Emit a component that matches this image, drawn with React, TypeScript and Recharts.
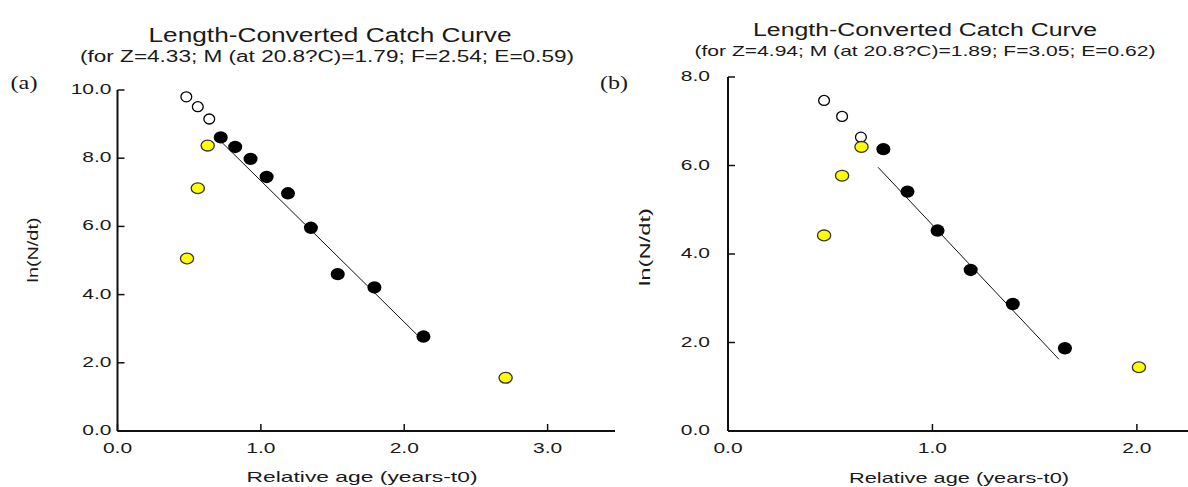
import React from 'react';
import { ScatterChart, Scatter, XAxis, YAxis } from 'recharts';

// panel (a)
const A_OPEN_AGE = [0.48, 0.56, 0.64];
const A_OPEN_LN = [9.8, 9.51, 9.15];
const A_YELLOW_AGE = [0.485, 0.56, 0.629, 2.707];
const A_YELLOW_LN = [5.06, 7.12, 8.37, 1.56];
const A_BLACK_AGE = [0.72, 0.821, 0.928, 1.04, 1.189, 1.349, 1.536, 1.792, 2.134];
const A_BLACK_LN = [8.61, 8.33, 7.98, 7.45, 6.97, 5.96, 4.6, 4.21, 2.77];
const A_FIT_AGE = [0.7, 2.09];
const A_FIT_LN = [8.58, 2.82];
const A_X_TICKS = [0, 1, 2, 3];
const A_Y_TICKS = [0, 2, 4, 6, 8, 10];

// panel (b)
const B_OPEN_AGE = [0.47, 0.558, 0.65];
const B_OPEN_LN = [7.47, 7.11, 6.64];
const B_YELLOW_AGE = [0.47, 0.558, 0.653, 2.01];
const B_YELLOW_LN = [4.42, 5.77, 6.42, 1.44];
const B_BLACK_AGE = [0.76, 0.878, 1.025, 1.187, 1.393, 1.648];
const B_BLACK_LN = [6.37, 5.41, 4.53, 3.64, 2.87, 1.87];
const B_FIT_AGE = [0.734, 1.619];
const B_FIT_LN = [5.96, 1.62];
const B_X_TICKS = [0, 1, 2];
const B_Y_TICKS = [0, 2, 4, 6, 8];

const TITLE = 'Length-Converted Catch Curve';
const A_SUB = '(for Z=4.33; M (at 20.8?C)=1.79; F=2.54; E=0.59)';
const B_SUB = '(for Z=4.94; M (at 20.8?C)=1.89; F=3.05; E=0.62)';
const X_LABEL = 'Relative age (years-t0)';
const Y_LABEL = 'ln(N/dt)';

const FONT = '"Liberation Sans", Arial, sans-serif';
const SERIF = '"Liberation Serif", "Times New Roman", serif';
const INK = '#1a1a1a';

const pts = (xs: number[], ys: number[]) => xs.map((x, i) => ({ x, y: ys[i] }));

const BlackDot = (p: any) => <ellipse cx={p.cx} cy={p.cy} rx={7} ry={6.2} fill="#000" />;
const YellowDot = (p: any) => (
  <ellipse cx={p.cx} cy={p.cy} rx={6.6} ry={5.4} fill="#ffff00" stroke="#333" strokeWidth={1.3} />
);
const OpenDot = (p: any) => (
  <ellipse cx={p.cx} cy={p.cy} rx={5.4} ry={5} fill="#fff" stroke="#000" strokeWidth={1.3} />
);
const NoDot = () => <g />;

const YTick = (p: any) => (
  <text
    x={0}
    y={0}
    dy={4}
    textAnchor="end"
    fontSize={14}
    fontFamily={FONT}
    fill={INK}
    transform={`translate(${p.x},${p.y}) scale(1.5,1)`}
  >
    {Number(p.payload.value).toFixed(1)}
  </text>
);

const XTick = (p: any) => (
  <text
    x={0}
    y={0}
    dy={5}
    textAnchor="middle"
    fontSize={14}
    fontFamily={FONT}
    fill={INK}
    transform={`translate(${p.x},${p.y}) scale(1.5,1)`}
  >
    {Number(p.payload.value).toFixed(1)}
  </text>
);

// text squeezed/stretched to a given length, like the scanned original
const SText = ({ x, y, w, size, rotate, family, children }: any) => (
  <text
    x={x}
    y={y}
    fontSize={size}
    fontFamily={family || FONT}
    fill={INK}
    textAnchor="middle"
    textLength={w}
    lengthAdjust="spacingAndGlyphs"
    transform={rotate ? `rotate(${rotate} ${x} ${y})` : undefined}
  >
    {children}
  </text>
);

const axisLine = { stroke: '#111', strokeWidth: 2 };
const tickLine = { stroke: '#111', strokeWidth: 1.5 };

interface PanelProps {
  open: { x: number; y: number }[];
  yellow: { x: number; y: number }[];
  black: { x: number; y: number }[];
  fit: { x: number; y: number }[];
  xMax: number;
  yMax: number;
  xTicks: number[];
  yTicks: number[];
  width: number;
  margin: { top: number; right: number; bottom: number; left: number };
  yGap: number;
}

const Panel = ({ open, yellow, black, fit, xMax, yMax, xTicks, yTicks, width, margin, yGap }: PanelProps) => (
  <ScatterChart width={width} height={487} margin={margin}>
    <XAxis
      type="number"
      dataKey="x"
      domain={[0, xMax]}
      ticks={xTicks}
      allowDataOverflow
      height={56}
      axisLine={axisLine}
      tickLine={tickLine}
      tickSize={-7}
      tickMargin={24}
      tick={<XTick />}
      interval={0}
    />
    <YAxis
      type="number"
      dataKey="y"
      domain={[0, yMax]}
      ticks={yTicks}
      allowDataOverflow
      width={70}
      axisLine={axisLine}
      tickLine={tickLine}
      tickSize={-7}
      tickMargin={7 + yGap}
      tick={<YTick />}
      interval={0}
    />
    <Scatter data={fit} line={{ stroke: '#111', strokeWidth: 1 }} shape={NoDot} isAnimationActive={false} />
    <Scatter data={open} shape={OpenDot} isAnimationActive={false} />
    <Scatter data={yellow} shape={YellowDot} isAnimationActive={false} />
    <Scatter data={black} shape={BlackDot} isAnimationActive={false} />
  </ScatterChart>
);

export default function App() {
  return (
    <div style={{ position: 'absolute', left: 0, top: 0, width: 1188, height: 487, background: '#fff', overflow: 'hidden' }}>
      <div style={{ position: 'absolute', left: 0, top: 0 }}>
        <Panel
          open={pts(A_OPEN_AGE, A_OPEN_LN)}
          yellow={pts(A_YELLOW_AGE, A_YELLOW_LN)}
          black={pts(A_BLACK_AGE, A_BLACK_LN)}
          fit={pts(A_FIT_AGE, A_FIT_LN)}
          xMax={3.47}
          yMax={10}
          xTicks={A_X_TICKS}
          yTicks={A_Y_TICKS}
          width={630}
          margin={{ top: 90, right: 15, bottom: 0, left: 47.5 }}
          yGap={6}
        />
      </div>
      <div style={{ position: 'absolute', left: 620, top: 0 }}>
        <Panel
          open={pts(B_OPEN_AGE, B_OPEN_LN)}
          yellow={pts(B_YELLOW_AGE, B_YELLOW_LN)}
          black={pts(B_BLACK_AGE, B_BLACK_LN)}
          fit={pts(B_FIT_AGE, B_FIT_LN)}
          xMax={2.25}
          yMax={8}
          xTicks={B_X_TICKS}
          yTicks={B_Y_TICKS}
          width={568}
          margin={{ top: 77, right: 0, bottom: 0, left: 38 }}
          yGap={18}
        />
      </div>
      <svg width={1188} height={487} style={{ position: 'absolute', left: 0, top: 0, pointerEvents: 'none' }}>
        <SText x={330} y={42} w={363} size={20}>{TITLE}</SText>
        <SText x={327} y={62} w={494} size={16}>{A_SUB}</SText>
        <SText x={925} y={36} w={344} size={18}>{TITLE}</SText>
        <SText x={925} y={56} w={461} size={15}>{B_SUB}</SText>
        <SText x={24} y={89} w={27} size={18} family={SERIF}>(a)</SText>
        <SText x={614} y={89} w={28} size={18} family={SERIF}>(b)</SText>
        <SText x={38} y={250} w={65} size={15} rotate={-90}>{Y_LABEL}</SText>
        <SText x={650} y={247} w={78} size={15} rotate={-90}>{Y_LABEL}</SText>
        <SText x={362} y={482} w={231} size={15}>{X_LABEL}</SText>
        <SText x={959} y={483} w={220} size={15}>{X_LABEL}</SText>
      </svg>
    </div>
  );
}
